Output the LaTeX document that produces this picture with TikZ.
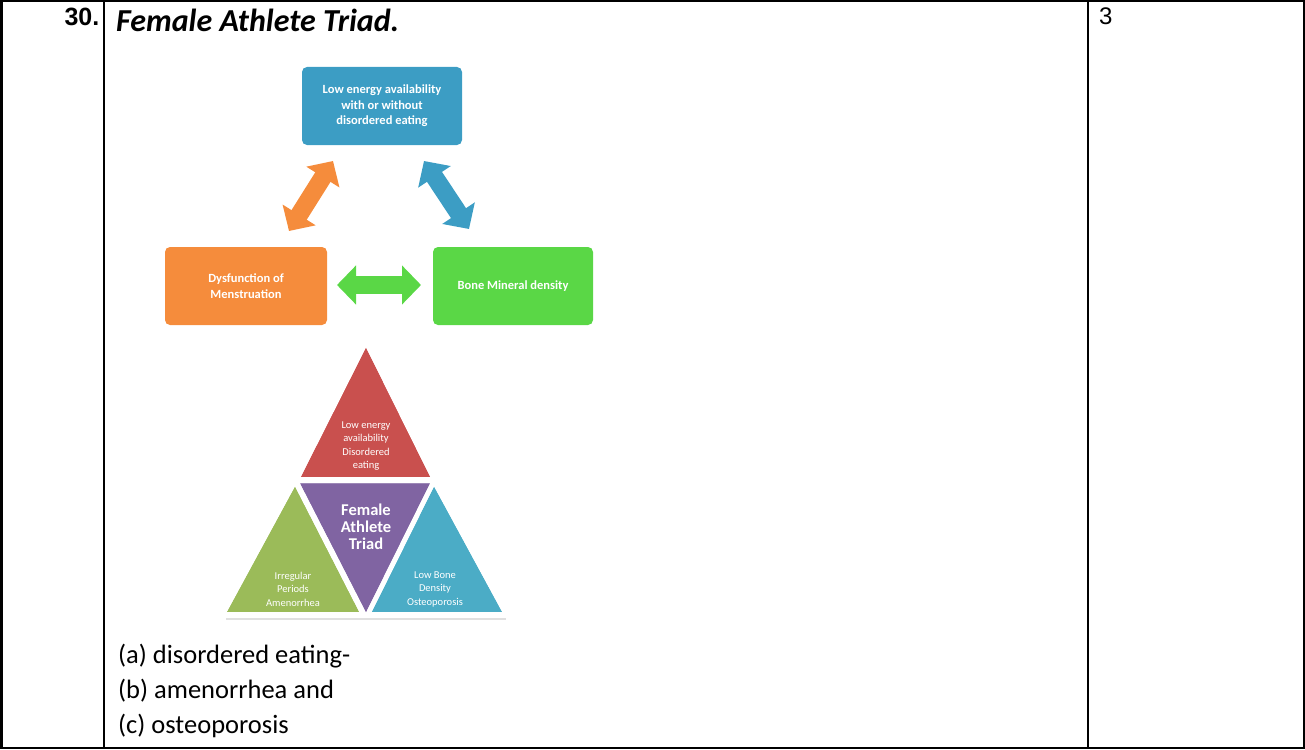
\documentclass[tikz,border=0pt]{standalone}
\usepackage{fontspec}
\setmainfont{Carlito}
\newfontfamily\arialf{Liberation Sans}
\usetikzlibrary{arrows.meta}
\definecolor{boxblue}{RGB}{60,157,196}
\definecolor{boxorange}{RGB}{245,140,60}
\definecolor{boxgreen}{RGB}{90,215,70}
\definecolor{trired}{RGB}{201,80,78}
\definecolor{tripurple}{RGB}{128,100,162}
\definecolor{trigreen}{RGB}{155,187,89}
\definecolor{tricyan}{RGB}{75,172,198}
\tikzset{
  grid line/.style={line width=2.5pt, black},
  flowbox/.style={rounded corners=5pt, minimum width=160pt, minimum height=78pt, text=white, font=\fontsize{12.5}{15.5}\selectfont\bfseries, align=center, inner sep=2pt},
  blockarrow/.style={line width=18pt, {Triangle[length=19pt,width=38pt]}-{Triangle[length=19pt,width=38pt]}},
  tri/.style={draw=white, line width=2pt, line join=miter},
  tritext/.style={text=white, align=center, font=\fontsize{10.5}{13}\selectfont, inner sep=0pt},
  bodytext/.style={anchor=base west, inner sep=0pt, font=\fontsize{26.5}{30}\selectfont},
}
\begin{document}
\begin{tikzpicture}[x=1pt,y=-1pt]
\useasboundingbox (0,0) rectangle (1305,749);
% table
\draw[grid line] (1.25,1.25) rectangle (1303.75,747.75);
\draw[grid line] (104,1.25) -- (104,747.75);
\draw[grid line] (1088,1.25) -- (1088,747.75);
\node[anchor=base east, inner sep=0pt, font=\arialf\bfseries\fontsize{25}{28}\selectfont] (num) at (99.5,26) {30.};
\node[anchor=base west, inner sep=0pt, font=\bfseries\itshape\fontsize{32}{36}\selectfont] (title) at (116,32) {Female Athlete Triad.};
\node[anchor=base west, inner sep=0pt, font=\arialf\fontsize{24}{28}\selectfont] (marks) at (1099,25) {3};
% flow boxes
\node[flowbox, fill=boxblue] (low) at (382,106) {Low energy availability\\with or without\\disordered eating};
\node[flowbox, fill=boxorange, minimum width=162pt] (dys) at (246,286) {Dysfunction of\\Menstruation};
\node[flowbox, fill=boxgreen] (bmd) at (513,286) {Bone Mineral density};
\coordinate (oa1) at (333,161);
\coordinate (oa2) at (289,231);
\coordinate (ba1) at (424,161);
\coordinate (ba2) at (469,229);
\coordinate (ga1) at (337,285);
\coordinate (ga2) at (421,285);
\draw[blockarrow, boxorange] (oa1) -- (oa2);
\draw[blockarrow, boxblue] (ba1) -- (ba2);
\draw[blockarrow, boxgreen] (ga1) -- (ga2);
% triad pyramid
\draw[line width=2pt, black!12] (226,619) -- (506,619);
\fill[tri, fill=trired] (366,345) -- (432,478) -- (299,478) -- cycle;
\fill[tri, fill=tripurple] (298,482) -- (432,482) -- (366,615) -- cycle;
\fill[tri, fill=trigreen] (295,484) -- (361,613) -- (225,613) -- cycle;
\fill[tri, fill=tricyan] (434,484) -- (504,613) -- (370,613) -- cycle;
\draw[tri] (366,345) -- (432,478) -- (299,478) -- cycle;
\draw[tri] (298,482) -- (432,482) -- (366,615) -- cycle;
\draw[tri] (295,484) -- (361,613) -- (225,613) -- cycle;
\draw[tri] (434,484) -- (504,613) -- (370,613) -- cycle;
\node[tritext] (tr) at (366,446) {Low energy\\availability\\[1pt]Disordered\\eating};
\node[tritext, font=\fontsize{16.5}{17}\selectfont\bfseries] (tp) at (366,527) {Female\\Athlete\\Triad};
\node[tritext] (tg) at (293,589) {Irregular\\Periods\\[1pt]Amenorrhea};
\node[tritext] (tc) at (435,589) {Low Bone\\Density\\[1pt]Osteoporosis};
% answer text
\node[bodytext] (a) at (118,663) {(a) disordered eating-};
\node[bodytext] (b) at (118,698) {(b) amenorrhea and};
\node[bodytext] (c) at (118,733) {(c) osteoporosis};
\end{tikzpicture}
\end{document}
